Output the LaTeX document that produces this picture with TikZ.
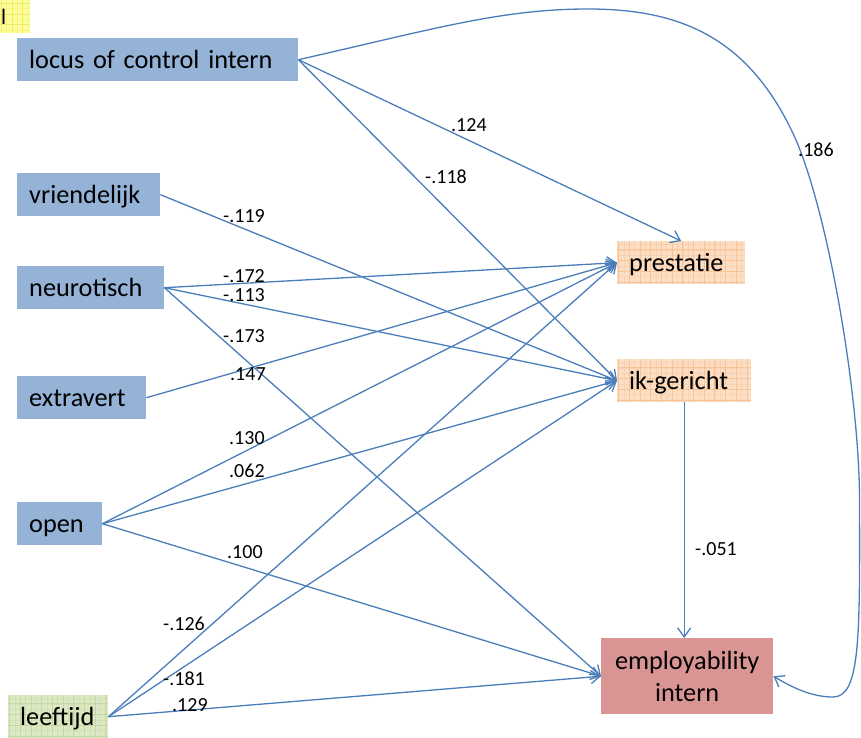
\documentclass[tikz,border=0pt]{standalone}
\usepackage{fontspec}
\setmainfont{Carlito}
\usetikzlibrary{arrows.meta}
\definecolor{boxblue}{RGB}{149,179,215}
\definecolor{empred}{RGB}{217,149,148}
\definecolor{lineblue}{RGB}{74,126,187}
\definecolor{peach}{RGB}{252,222,196}
\definecolor{peachgrid}{RGB}{247,196,152}
\definecolor{lgreen}{RGB}{221,233,197}
\definecolor{lgreengrid}{RGB}{198,216,164}
\definecolor{lyellow}{RGB}{255,255,153}
\definecolor{lyellowgrid}{RGB}{236,236,112}
\begin{document}
\begin{tikzpicture}[x=1pt,y=-1pt,
  box/.style={anchor=north west, inner xsep=12pt, inner ysep=0pt,
    minimum height=43pt, align=left, text height=21pt, text depth=4pt,
    font=\fontsize{26.3}{32}\selectfont},
  bluebox/.style={box, fill=boxblue},
  gridbox/.style 2 args={fill=#1, path picture={
    \draw[#2!45!#1, line width=0.4pt] (path picture bounding box.south west) grid[step=5.35pt] (path picture bounding box.north east);
    \draw[#2, line width=0.7pt] (path picture bounding box.south west) grid[step=10.7pt] (path picture bounding box.north east);}},
  lbl/.style={anchor=base west, inner sep=0pt, font=\fontsize{20}{24}\selectfont},
  arr/.style={draw=lineblue, line width=1.3pt, -{Straight Barb[length=9pt,width=13pt,line width=1.3pt]}}
]
\useasboundingbox (0,0) rectangle (861,738);

% top-left yellow fragment
\node[gridbox={lyellow}{lyellowgrid}, anchor=north west, inner xsep=1pt, inner ysep=0pt,
  minimum height=33pt, text width=28pt, align=left, text height=16pt, text depth=0pt,
  font=\fontsize{22}{26}\selectfont] (frag) at (0,0) {l};

% predictor boxes
\node[bluebox, text width=257pt] (loc) at (17,38) {locus of control intern};
\node[bluebox, text width=119pt] (vri) at (17,173) {vriendelijk};
\node[bluebox, text width=123pt] (neu) at (17,266) {neurotisch};
\node[bluebox, text width=105pt] (ext) at (17,376) {extravert};
\node[bluebox, text width=61pt] (ope) at (17,502) {open};
\node[box, gridbox={lgreen}{lgreengrid}, text width=76pt] (lft) at (8,695) {leeftijd};

% mediators
\node[box, gridbox={peach}{peachgrid}, text width=104pt] (pre) at (617,241) {prestatie};
\node[box, gridbox={peach}{peachgrid}, text width=110pt] (ik) at (617,359) {ik-gericht};

% outcome
\node[anchor=north west, fill=empred, minimum height=76pt, inner xsep=4pt, inner ysep=0pt,
  text width=164pt, align=center, font=\fontsize{26.3}{32}\selectfont] (emp) at (601,638)
  {employability\\intern};

% connectors
\draw[arr] (loc.east) -- (pre.north);
\draw[arr] (loc.east) -- (ik.west);
\draw[arr] (vri.east) -- (ik.west);
\draw[arr] (neu.east) -- (pre.west);
\draw[arr] (neu.east) -- (ik.west);
\draw[arr] (neu.east) -- (emp.west);
\draw[arr] (ext.east) -- (pre.west);
\draw[arr] (ope.east) -- (pre.west);
\draw[arr] (ope.east) -- (ik.west);
\draw[arr] (ope.east) -- (emp.west);
\draw[arr] (lft.east) -- (pre.west);
\draw[arr] (lft.east) -- (ik.west);
\draw[arr] (lft.east) -- (emp.west);
\draw[arr] (ik.south) -- (ik.south |- emp.north);
\draw[arr] (loc.east) .. controls (430,30) and (500,9) .. (588,9)
  .. controls (680,9) and (750,37) .. (796,140)
  .. controls (830,220) and (859.5,400) .. (859.5,500)
  .. controls (860,640) and (860,697) .. (833,697)
  .. controls (810,697) and (790,686) .. (emp.east);

% labels
\node[lbl] at (451,132) {.124};
\node[lbl] at (425,183) {-.118};
\node[lbl] at (798,157) {.186};
\node[lbl] at (223,222) {-.119};
\node[lbl] at (223,282) {-.172};
\node[lbl] at (223,301) {-.113};
\node[lbl] at (223,342) {-.173};
\node[lbl] at (230,380) {.147};
\node[lbl] at (229,444) {.130};
\node[lbl] at (229,477) {.062};
\node[lbl] at (227,558) {.100};
\node[lbl] at (695,555) {-.051};
\node[lbl] at (163,630) {-.126};
\node[lbl] at (163,685) {-.181};
\node[lbl] at (172,711) {.129};
\end{tikzpicture}
\end{document}
